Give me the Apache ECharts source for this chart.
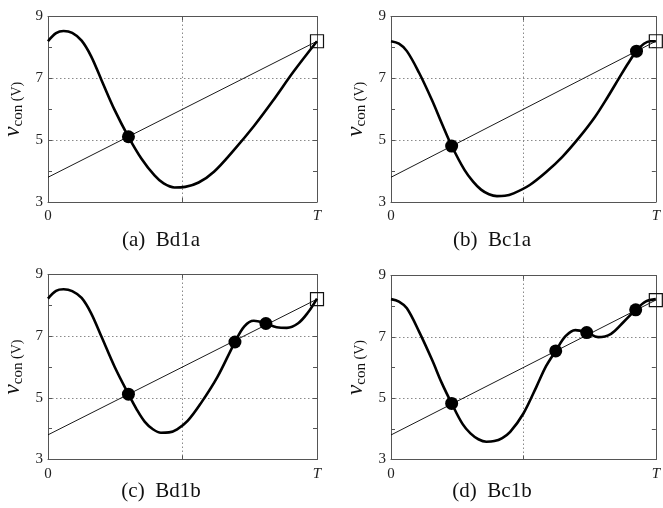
<!DOCTYPE html>
<html>
<head>
<meta charset="utf-8">
<script src="https://cdn.jsdelivr.net/npm/echarts@6/dist/echarts.min.js"></script>
<style>
  html, body { margin: 0; padding: 0; background: #fff; }
  #chart { width: 663px; height: 508px; }
</style>
</head>
<body>
<div id="chart"></div>
<script>
// x 以周期 T 归一化 (0..1)，y 为 v_con (V)
const captions = ['(a)  Bd1a', '(b)  Bc1a', '(c)  Bd1b', '(d)  Bc1b'];
const rampLine = [[0, 3.8], [1, 8.2]];
const endPoint = [[1, 8.2]];

const curveA = [
  [0, 8.2], [0.03, 8.46], [0.058, 8.53], [0.09, 8.47], [0.125, 8.22], [0.16, 7.72],
  [0.199, 6.94], [0.248, 5.97], [0.299, 5.11], [0.347, 4.41], [0.396, 3.86], [0.43, 3.6],
  [0.47, 3.47], [0.51, 3.49], [0.56, 3.63], [0.617, 3.98], [0.691, 4.68], [0.765, 5.45],
  [0.839, 6.31], [0.913, 7.22], [1, 8.2]
];
const dotsA = [[0.299, 5.11]];

const curveB = [
  [0, 8.2], [0.03, 8.12], [0.06, 7.88], [0.106, 7.18], [0.155, 6.29], [0.192, 5.54],
  [0.229, 4.82], [0.278, 4.03], [0.31, 3.66], [0.34, 3.4], [0.37, 3.25], [0.4, 3.19],
  [0.43, 3.2], [0.463, 3.28], [0.524, 3.55], [0.585, 3.96], [0.647, 4.46], [0.71, 5.08],
  [0.77, 5.75], [0.82, 6.42], [0.86, 6.99], [0.895, 7.48], [0.927, 7.88], [0.955, 8.12],
  [0.98, 8.2], [1, 8.2]
];
const dotsB = [[0.229, 4.81], [0.927, 7.88]];

const curveC = [
  [0, 8.22], [0.03, 8.47], [0.058, 8.52], [0.09, 8.46], [0.125, 8.24], [0.16, 7.75],
  [0.199, 6.98], [0.248, 6.0], [0.299, 5.12], [0.33, 4.62], [0.36, 4.22], [0.39, 3.98],
  [0.42, 3.87], [0.45, 3.88], [0.48, 3.98], [0.519, 4.25], [0.568, 4.82], [0.63, 5.68],
  [0.695, 6.81], [0.73, 7.32], [0.765, 7.5], [0.81, 7.41], [0.85, 7.29], [0.888, 7.27],
  [0.93, 7.42], [0.965, 7.75], [1, 8.22]
];
const dotsC = [[0.299, 5.12], [0.695, 6.81], [0.81, 7.41]];

const curveD = [
  [0, 8.23], [0.03, 8.15], [0.06, 7.93], [0.106, 7.17], [0.155, 6.25], [0.192, 5.49],
  [0.229, 4.83], [0.27, 4.16], [0.3, 3.85], [0.33, 3.66], [0.36, 3.58], [0.39, 3.6],
  [0.42, 3.7], [0.45, 3.9], [0.5, 4.5], [0.549, 5.37], [0.586, 6.05], [0.622, 6.54],
  [0.659, 7.02], [0.696, 7.22], [0.739, 7.14], [0.782, 6.99], [0.831, 7.1], [0.88, 7.5],
  [0.924, 7.88], [0.961, 8.15], [1, 8.23]
];
const dotsD = [[0.229, 4.83], [0.622, 6.54], [0.739, 7.14], [0.924, 7.88]];

const curves = [curveA, curveB, curveC, curveD];
const dots = [dotsA, dotsB, dotsC, dotsD];

const serif = '"Liberation Serif", "Times New Roman", serif';
const frame = '#555';
const gridLine = { type: [1.5, 2.5], color: '#8a8a8a', width: 1 };

const grids = [
  { left: 46, top: 16.5, width: 271, height: 185.5 },
  { left: 391, top: 16.5, width: 271, height: 185.5 },
  { left: 46, top: 274.5, width: 271, height: 185 },
  { left: 391, top: 275.5, width: 271, height: 184 }
];

const xAxis = [];
const yAxis = [];
const series = [];

for (let i = 0; i < 4; i++) {
  // 下方 x 轴 (带标签和竖向点线)
  xAxis.push({
    gridIndex: i, type: 'value', min: 0, max: 1, interval: 0.5, position: 'bottom',
    axisLine: { show: true, onZero: false, lineStyle: { color: frame } },
    axisTick: { show: true, inside: true, length: 4, lineStyle: { color: frame } },
    axisLabel: {
      margin: 7, fontFamily: serif, fontSize: 15, color: '#222',
      showMinLabel: true, showMaxLabel: true,
      formatter: v => (v === 0 ? '0' : v === 1 ? '{i|T}' : ''),
      rich: { i: { fontFamily: serif, fontSize: 15, fontStyle: 'italic', color: '#222' } }
    },
    splitLine: { show: true, showMinLine: false, showMaxLine: false, lineStyle: gridLine }
  });
  // 上方 x 轴 (只画边框和刻度)
  xAxis.push({
    gridIndex: i, type: 'value', min: 0, max: 1, interval: 0.5, position: 'top',
    axisLine: { show: true, onZero: false, lineStyle: { color: frame } },
    axisTick: { show: true, inside: true, length: 4, lineStyle: { color: frame } },
    axisLabel: { show: false },
    splitLine: { show: false }
  });
  yAxis.push({
    gridIndex: i, type: 'value', min: 3, max: 9, interval: 2, position: 'left',
    name: '{v|v}{s|con}{u| (V)}', nameLocation: 'middle', nameRotate: 90, nameGap: 24,
    nameTextStyle: {
      rich: {
        v: { fontFamily: serif, fontStyle: 'italic', fontSize: 23, color: '#111', verticalAlign: 'bottom' },
        s: { fontFamily: serif, fontSize: 15, color: '#111', verticalAlign: 'bottom', padding: [0, 0, -2, 0] },
        u: { fontFamily: serif, fontSize: 14, color: '#111', verticalAlign: 'bottom' }
      }
    },
    axisLine: { show: true, onZero: false, lineStyle: { color: frame } },
    axisTick: { show: true, inside: true, length: 4, lineStyle: { color: frame } },
    minorTick: { show: true, splitNumber: 2, length: 4, lineStyle: { color: frame } },
    axisLabel: { margin: 5, fontFamily: serif, fontSize: 15, color: '#222', showMinLabel: true, showMaxLabel: true },
    splitLine: { show: true, showMinLine: false, showMaxLine: false, lineStyle: gridLine }
  });
  yAxis.push({
    gridIndex: i, type: 'value', min: 3, max: 9, interval: 2, position: 'right',
    axisLine: { show: true, onZero: false, lineStyle: { color: frame } },
    axisTick: { show: true, inside: true, length: 4, lineStyle: { color: frame } },
    minorTick: { show: true, splitNumber: 2, length: 4, lineStyle: { color: frame } },
    axisLabel: { show: false },
    splitLine: { show: false }
  });

  const xi = i * 2;
  const yi = i * 2;
  series.push({
    type: 'line', xAxisIndex: xi, yAxisIndex: yi, data: rampLine,
    showSymbol: false, lineStyle: { color: '#000', width: 0.9 }, z: 2
  });
  series.push({
    type: 'line', xAxisIndex: xi, yAxisIndex: yi, data: curves[i], smooth: 0.35,
    showSymbol: false, clip: false, lineStyle: { color: '#000', width: 2.6 }, z: 3
  });
  series.push({
    type: 'scatter', xAxisIndex: xi, yAxisIndex: yi, data: dots[i], symbolSize: 13,
    itemStyle: { color: '#000', opacity: 1 }, z: 4
  });
  series.push({
    type: 'scatter', xAxisIndex: xi, yAxisIndex: yi, data: endPoint, symbol: 'rect',
    symbolSize: 13, clip: false,
    itemStyle: { color: 'rgba(0,0,0,0)', borderColor: '#111', borderWidth: 1.2, opacity: 1 }, z: 5
  });
}

const captionPos = [[161, 240], [492, 240], [161, 491], [492, 491]];

const chart = echarts.init(document.getElementById('chart'), null, { renderer: 'canvas' });
chart.setOption({
  animation: false,
  backgroundColor: '#fff',
  grid: grids,
  xAxis: xAxis,
  yAxis: yAxis,
  series: series,
  graphic: captions.map((c, i) => ({
    type: 'text', x: captionPos[i][0], y: captionPos[i][1],
    style: { text: c, fontFamily: serif, fontSize: 21, fill: '#111', textAlign: 'center', textVerticalAlign: 'middle' }
  }))
});
</script>
</body>
</html>
